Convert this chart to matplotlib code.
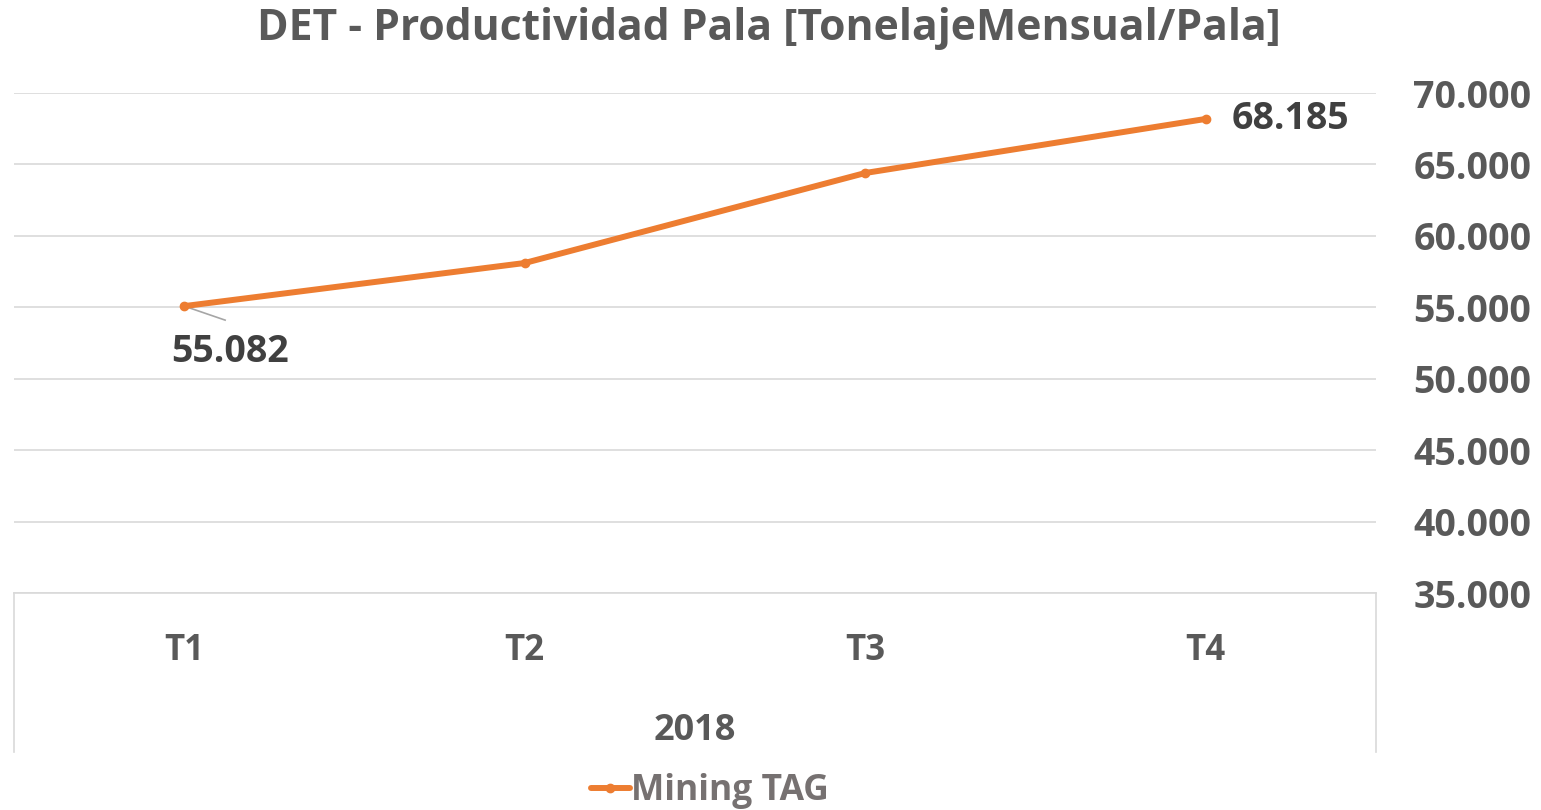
import numpy as np
import matplotlib.pyplot as plt
from matplotlib.lines import Line2D

# data
categories = ["T1", "T2", "T3", "T4"]
year = "2018"
productividad = [55082, 58100, 64400, 68185]
series_name = "Mining TAG"
yticks = [35000, 40000, 45000, 50000, 55000, 60000, 65000, 70000]

plt.rcParams['font.family'] = ['Open Sans', 'DejaVu Sans']
plt.rcParams['font.weight'] = 'bold'
txt = "#595959"
orange = "#ED7D31"


def fmt(v):
    return "{:,.0f}".format(v).replace(",", ".")


fig = plt.figure(figsize=(15.41, 8.10), dpi=100)
ax = fig.add_axes([14/1541, 1-593/810, (1376-14)/1541, 500/810])

x = np.arange(len(categories))
ax.plot(x, productividad, color=orange, lw=4.3, marker="o", ms=6,
        solid_capstyle="round", label=series_name, zorder=3)

ax.set_xlim(-0.5, len(categories)-0.5)
ax.set_ylim(min(yticks), max(yticks))
ax.set_yticks(yticks)
ax.set_yticklabels([fmt(v) for v in yticks])
ax.yaxis.tick_right()
ax.tick_params(axis="y", length=0, pad=27, labelsize=27, labelcolor=txt)
ax.set_xticks(x)
ax.set_xticklabels(categories)
ax.tick_params(axis="x", length=0, pad=29, labelsize=25, labelcolor=txt)
ax.grid(axis="y", color="#D9D9D9", lw=1.2)
ax.set_axisbelow(True)
for s in ["top", "left", "right"]:
    ax.spines[s].set_visible(False)
ax.spines["bottom"].set_color("#D9D9D9")
ax.spines["bottom"].set_linewidth(1.2)

# category group box
for xx in [0, 1]:
    ax.add_line(Line2D([xx, xx], [0, -0.318], transform=ax.transAxes,
                       color="#D9D9D9", lw=1.2, clip_on=False))
ax.text(0.5, -0.277, year, transform=ax.transAxes, ha="center", va="center",
        fontsize=26, color=txt, fontweight="bold")

# data labels (first one with leader line)
ax.plot([x[0], x[0]+0.12], [productividad[0], productividad[0]-980],
        color="#A6A6A6", lw=1.2, zorder=2)
ax.text(x[0]+0.135, productividad[0]-3220, fmt(productividad[0]),
        ha="center", va="center", fontsize=27, color="#404040",
        fontweight="bold")
ax.text(x[-1]+0.075, productividad[-1], fmt(productividad[-1]), ha="left",
        va="center", fontsize=27, color="#404040", fontweight="bold")

fig.suptitle("DET - Productividad Pala [TonelajeMensual/Pala]", x=769/1541,
             y=1-28/810, va="center", fontsize=30.7, color=txt,
             fontweight="bold")

leg = fig.legend(loc="center", bbox_to_anchor=(710/1541, 1-791/810),
                 frameon=False, fontsize=25.5, handlelength=1.1,
                 handletextpad=0.05)
for t in leg.get_texts():
    t.set_color("#767171")

fig.savefig("out.png", dpi=100)
